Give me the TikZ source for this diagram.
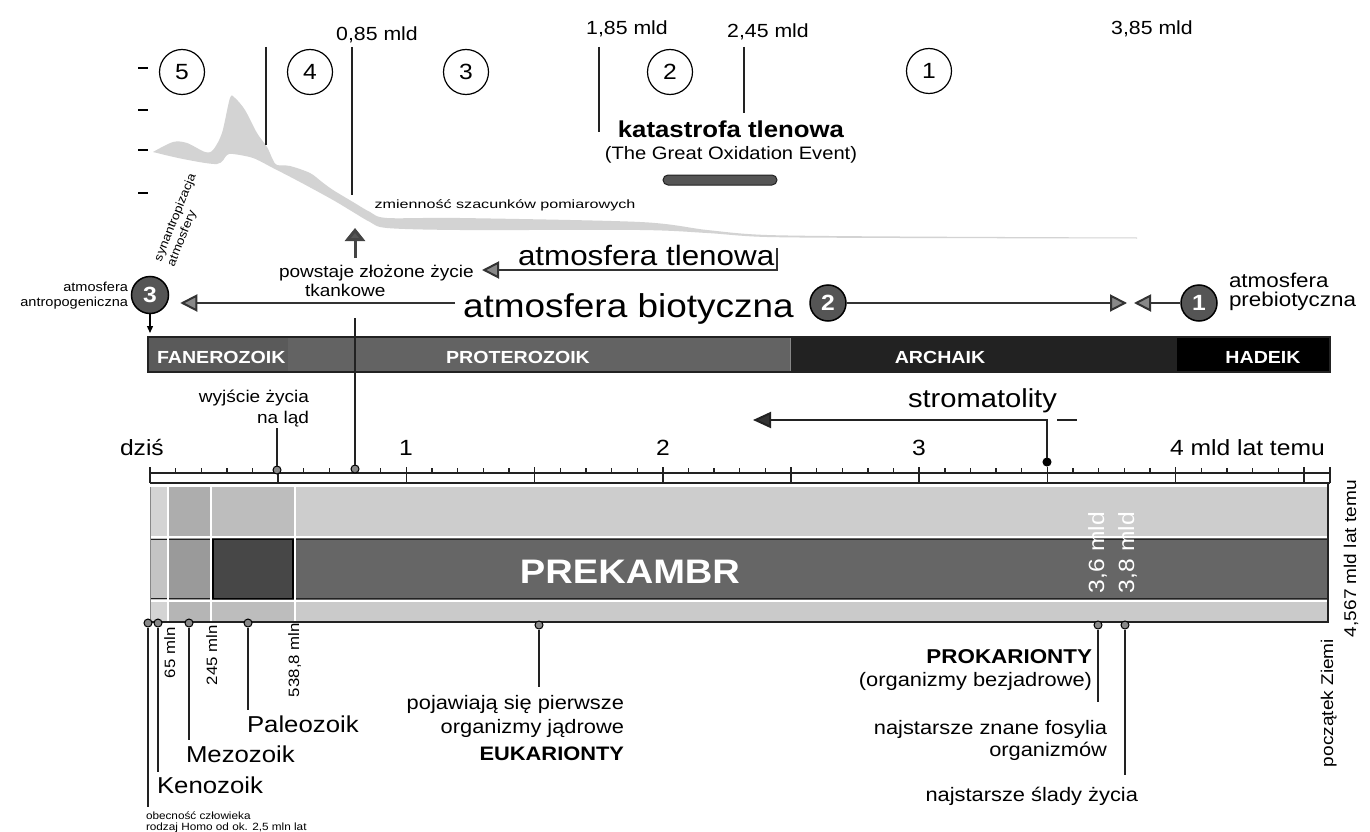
\documentclass[tikz,border=0pt]{standalone}
\usepackage{fontspec}
\setmainfont{Liberation Sans}[FakeStretch=1.12]
\usepackage{graphicx}
\usetikzlibrary{arrows.meta}
\newcommand\fs[1]{\fontsize{#1}{#1}\selectfont}
\definecolor{g22}{HTML}{222222}
\definecolor{g33}{HTML}{333333}
\definecolor{g44}{HTML}{444444}
\definecolor{g55}{HTML}{555555}
\definecolor{g5a}{HTML}{5A5A5A}
\definecolor{g63}{HTML}{636363}
\definecolor{g66}{HTML}{666666}
\definecolor{g88}{HTML}{888888}
\definecolor{bandc}{HTML}{D3D3D3}
\definecolor{cA}{HTML}{D4D4D4}
\definecolor{cB}{HTML}{C4C4C4}
\definecolor{cC}{HTML}{ADADAD}
\definecolor{cD}{HTML}{9A9A9A}
\definecolor{cE}{HTML}{B5B5B5}
\definecolor{cF}{HTML}{BDBDBD}
\definecolor{cG}{HTML}{474747}
\definecolor{cH}{HTML}{CDCDCD}
\definecolor{cI}{HTML}{CACACA}
\tikzset{
  t/.style={inner sep=0pt, outer sep=0pt},
  ocirc/.style={draw=black, line width=1.2pt, circle, minimum size=45pt, inner sep=0pt, font=\fs{22}},
  dcirc/.style={draw=black, line width=1.5pt, fill=g55, circle, minimum size=37pt, inner sep=0pt, text=white, font=\bfseries\fs{22}},
  arr/.style={draw=g33, line width=2pt, -{Triangle[length=17pt,width=17pt,fill=g88]}},
  darr/.style={draw=g22, line width=2pt, -{Triangle[length=18pt,width=16pt,fill=g33]}},
  mdot/.style={circle, draw=black, fill=g88, minimum size=8pt, inner sep=0pt, line width=1pt},
  mline/.style={line width=2pt, draw=g22},
  vline/.style={line width=1.5pt, draw=g22},
  wsep/.style={line width=2.5pt, draw=white},
}
\begin{document}
\begin{tikzpicture}[x=1pt,y=-1pt]
\useasboundingbox (0,0) rectangle (1370,832);
\fill[white] (0,0) rectangle (1370,832);

% ---------- top oxygen graph ----------
\foreach \yy in {68,110,150,193} \draw[line width=1.5pt] (138,\yy) -- (148,\yy);
\fill[bandc] plot[smooth, tension=0.5] coordinates {(153,152) (173,142) (187,143) (205,152) (213,150) (222,133) (230,98) (235,98) (245,110) (257,133) (267,147) (273,160) (277,165) (290,166) (310,173) (322,182) (333,190) (353,202) (370,212) (387,218) (460,218) (640,222) (707,230) (767,235) (900,236.5) (1137,237.5)}
 -- plot[smooth, tension=0.5] coordinates {(1137,238.5) (900,238) (767,237) (707,233) (640,230) (460,230) (387,228) (370,222) (353,212) (333,200) (300,182) (273,168) (253,158) (233,154) (227,155) (217,164) (183,159) (153,152)} -- cycle;

\node[ocirc] (n5) at (182,72) {5};
\node[ocirc] (n4) at (310,72) {4};
\node[ocirc] (n3) at (466,72) {3};
\node[ocirc] (n2) at (670,72) {2};
\node[ocirc] (n1) at (929,71) {1};

\node[t, anchor=base, font=\fs{19}] (l085) at (377,41) {0,85 mld};
\node[t, anchor=base, font=\fs{19}] (l185) at (627,35) {1,85 mld};
\node[t, anchor=base, font=\fs{19}] (l245) at (768,38) {2,45 mld};
\node[t, anchor=base, font=\fs{19}] (l385) at (1152,35) {3,85 mld};

\draw[vline] (266,47) -- (266,145);
\draw[vline] (352,47) -- (352,195);
\draw[vline] (599,47) -- (599,132);
\draw[vline] (744,47) -- (744,113);

\node[t, anchor=base, font=\bfseries\fs{23}] (kat) at (731,137) {katastrofa tlenowa};
\node[t, anchor=base, font=\fs{18}] (goe) at (731,160) {(The Great Oxidation Event)};
\draw[draw=g22, fill=g55, line width=1pt, rounded corners=5pt] (663,175) rectangle (777,185);

\node[t, anchor=base, font=\fs{12}] (zmn) at (505,208) {\scalebox{1.2}[1]{zmienność szacunków pomiarowych}};

% ---------- atmosphere row ----------
\node[t, anchor=base west, rotate=68, font=\fs{12}] (syn1) at (161,262) {synantropizacja};
\node[t, anchor=base west, rotate=68, font=\fs{12}] (syn2) at (174,267) {atmosfery};

\node[dcirc] (a3) at (150,295) {3};
\node[t, anchor=base east, font=\fs{13}] (ant1) at (128,291) {atmosfera};
\node[t, anchor=base east, font=\fs{13}] (ant2) at (128,306) {antropogeniczna};
\coordinate (a3tip) at (150,333);
\draw[line width=1.3pt, -{Triangle[length=7pt,width=6pt]}] (a3.south) -- (a3tip);

\node[t, anchor=base west, font=\fs{17}] (pow1) at (279,277) {powstaje złożone życie};
\node[t, anchor=base west, font=\fs{17}] (pow2) at (305,296) {tkankowe};
\coordinate (upb) at (355,258);
\coordinate (upt) at (355,228);
\draw[draw=g44, line width=3pt, -{Triangle[length=13pt,width=20pt,fill=g55]}] (upb) -- (upt);

\node[t, anchor=base west, font=\fs{28}] (tlen) at (518,265) {atmosfera tlenowa};
\coordinate (tlA) at (777,248);
\coordinate (tlB) at (777,270);
\coordinate (tlC) at (482,270);
\draw[arr] (tlA) -- (tlB) -- (tlC);

\node[t, anchor=base west, font=\fs{33}] (bio) at (463,317) {atmosfera biotyczna};
\node[dcirc, minimum size=36pt] (a2) at (828,303) {2};
\node[dcirc, minimum size=36pt] (a1) at (1199,303) {1};
\draw[arr] ([xshift=-8pt]bio.west |- a2) -- ([xshift=11pt]a3.east |- a2);
\coordinate (t2) at (1127,303);
\coordinate (t1) at (1134,303);
\draw[arr] (a2.east) -- (t2);
\draw[arr] (a1.west) -- (t1);
\node[t, anchor=base west, font=\fs{20}] (pre1) at (1229,287) {atmosfera};
\node[t, anchor=base west, font=\fs{20}] (pre2) at (1229,306) {prebiotyczna};

% ---------- era bar ----------
\fill[g5a] (148,337) rectangle (288,372);
\fill[g63] (288,337) rectangle (790,372);
\fill[g22] (790,337) rectangle (1177,372);
\fill[black] (1177,337) rectangle (1330,372);
\draw[draw=g22, line width=1.5pt] (148,337) rectangle (1330,372);
\draw[draw=g88, line width=0.8pt] (790,338) -- (790,371);
\node[t, anchor=base west, text=white, font=\bfseries\fs{17.5}] (fan) at (157,363) {FANEROZOIK};
\node[t, anchor=base, text=white, font=\bfseries\fs{17.5}] (pro) at (518,363) {PROTEROZOIK};
\node[t, anchor=base, text=white, font=\bfseries\fs{17.5}] (arc) at (940,363) {ARCHAIK};
\node[t, anchor=base, text=white, font=\bfseries\fs{17.5}] (had) at (1263,363) {HADEIK};

% ---------- ruler ----------
\draw[line width=1.5pt, draw=g22] (150,473) -- (1330,473);
\draw[line width=1.5pt, draw=g22] (150,483) -- (1330,483);
\foreach \i in {0,...,46} {
  \draw[line width=1.3pt, draw=g22] ({150+25.64*\i},468) -- ({150+25.64*\i},473);
}
\foreach \i in {0,...,9} {
  \draw[line width=1.7pt, draw=g22] ({150+128.2*\i},467) -- ({150+128.2*\i},483);
}
\draw[line width=1.5pt, draw=g22] (1330,467) -- (1330,483);
\node[t, anchor=base west, font=\fs{22}] (dzis) at (120,455) {dziś};
\node[t, anchor=base, font=\fs{22}] (r1) at (406,455) {1};
\node[t, anchor=base, font=\fs{22}] (r2) at (663,455) {2};
\node[t, anchor=base, font=\fs{22}] (r3) at (919,455) {3};
\node[t, anchor=base west, font=\fs{22}] (r4) at (1170,455) {4 mld lat temu};

% ---------- big box ----------
\fill[cA] (150,487) rectangle (168,537);
\fill[cB] (150,537) rectangle (168,600);
\fill[cA] (150,600) rectangle (168,622);
\fill[cC] (168,487) rectangle (211,537);
\fill[cD] (168,537) rectangle (211,600);
\fill[cE] (168,600) rectangle (211,622);
\fill[cF] (211,487) rectangle (295,537);
\fill[cG] (211,537) rectangle (295,600);
\fill[cF] (211,600) rectangle (295,622);
\fill[cH] (295,487) rectangle (1328,537);
\fill[g66] (295,537) rectangle (1328,600);
\fill[cI] (295,600) rectangle (1328,622);
\draw[line width=1.2pt, draw=g22] (150,539.5) -- (1328,539.5);
\draw[line width=1.2pt, draw=g22] (150,598.5) -- (1328,598.5);
\draw[wsep] (150,537) -- (1328,537);
\draw[wsep] (150,601) -- (1328,601);
\draw[wsep] (168,487) -- (168,622);
\draw[wsep] (211,487) -- (211,622);
\draw[wsep] (295,487) -- (295,622);
\draw[line width=1.2pt, draw=black] (213,539.5) rectangle (293,598.5);
\draw[line width=1.5pt, draw=g22] (150,622) -- (1328,622) -- (1328,483);
\draw[line width=0.8pt, draw=g88] (150,487) -- (150,622);

\node[t, anchor=base, text=white, font=\bfseries\fs{34}] (prek) at (630,583) {PREKAMBR};
\node[t, anchor=base west, rotate=90, text=white, font=\fs{22}] (m36) at (1104,593) {3,6 mld};
\node[t, anchor=base west, rotate=90, text=white, font=\fs{22}] (m38) at (1134,593) {3,8 mld};
\node[t, anchor=base west, rotate=90, font=\fs{17}] (m4567) at (1356,637) {4,567 mld lat temu};

% ---------- markers above ruler ----------
\node[mdot] (dwy) at (277,470) {};
\coordinate (dwyT) at (277,428);
\draw[mline] (dwy) -- (dwyT);
\node[t, anchor=base east, font=\fs{17}] (wy1) at (309,402) {wyjście życia};
\node[t, anchor=base east, font=\fs{17}] (wy2) at (309,423) {na ląd};

\node[mdot] (d085) at (355,469) {};
\coordinate (d085T) at (355,318);
\draw[mline] (d085) -- (d085T);

\node[mdot, fill=black] (dst) at (1047,462) {};
\coordinate (stA) at (1047,420);
\coordinate (stB) at (753,420);
\draw[darr] (dst) -- (stA) -- (stB);
\draw[line width=1.5pt, draw=g22] (1057,420) -- (1077,420);
\node[t, anchor=base west, font=\fs{26}] (strom) at (908,407) {stromatolity};

% ---------- markers below box ----------
\node[mdot] (dob) at (148,623) {};
\node[mdot] (dke) at (158,623) {};
\node[mdot] (dme) at (189,623) {};
\node[mdot] (dpa) at (248,623) {};
\node[mdot] (deu) at (539,625) {};
\node[mdot] (dpr) at (1098,625) {};
\node[mdot] (dsl) at (1125,625) {};
\coordinate (dobE) at (148,807);
\coordinate (dkeE) at (158,772);
\coordinate (dmeE) at (189,740);
\coordinate (dpaE) at (248,710);
\coordinate (deuE) at (539,687);
\coordinate (dprE) at (1098,702);
\coordinate (dslE) at (1125,775);
\draw[mline] (dob) -- (dobE);
\draw[mline] (dke) -- (dkeE);
\draw[mline] (dme) -- (dmeE);
\draw[mline] (dpa) -- (dpaE);
\draw[mline] (deu) -- (deuE);
\draw[mline] (dpr) -- (dprE);
\draw[mline] (dsl) -- (dslE);

\node[t, anchor=base west, rotate=90, font=\fs{15}] (m65) at (175,678) {65 mln};
\node[t, anchor=base west, rotate=90, font=\fs{15}] (m245) at (217,685) {245 mln};
\node[t, anchor=base west, rotate=90, font=\fs{15}] (m538) at (299,697) {538,8 mln};

\node[t, anchor=base west, font=\fs{23}] (pal) at (247,732) {Paleozoik};
\node[t, anchor=base west, font=\fs{23}] (mez) at (186,762) {Mezozoik};
\node[t, anchor=base west, font=\fs{23}] (ken) at (157,793) {Kenozoik};
\node[t, anchor=base west, font=\fs{10.5}] (ob1) at (146,819) {obecność człowieka};
\node[t, anchor=base west, font=\fs{10.5}] (ob2) at (146,830) {rodzaj Homo od ok. 2,5 mln lat};

\node[t, anchor=base east, font=\fs{19.5}] (eu1) at (624,709) {pojawiają się pierwsze};
\node[t, anchor=base east, font=\fs{19.5}] (eu2) at (624,733) {organizmy jądrowe};
\node[t, anchor=base east, font=\bfseries\fs{19.5}] (eu3) at (624,760) {EUKARIONTY};

\node[t, anchor=base east, font=\bfseries\fs{20}] (pk1) at (1092,663) {PROKARIONTY};
\node[t, anchor=base east, font=\fs{19.5}] (pk2) at (1092,686) {(organizmy bezjadrowe)};
\node[t, anchor=base east, font=\fs{19.5}] (fo1) at (1107,734) {najstarsze znane fosylia};
\node[t, anchor=base east, font=\fs{19.5}] (fo2) at (1107,756) {organizmów};
\node[t, anchor=base east, font=\fs{19.5}] (sl) at (1138,801) {najstarsze ślady życia};
\node[t, anchor=base west, rotate=90, font=\fs{17}] (pocz) at (1333,767) {początek Ziemi};
\end{tikzpicture}
\end{document}
